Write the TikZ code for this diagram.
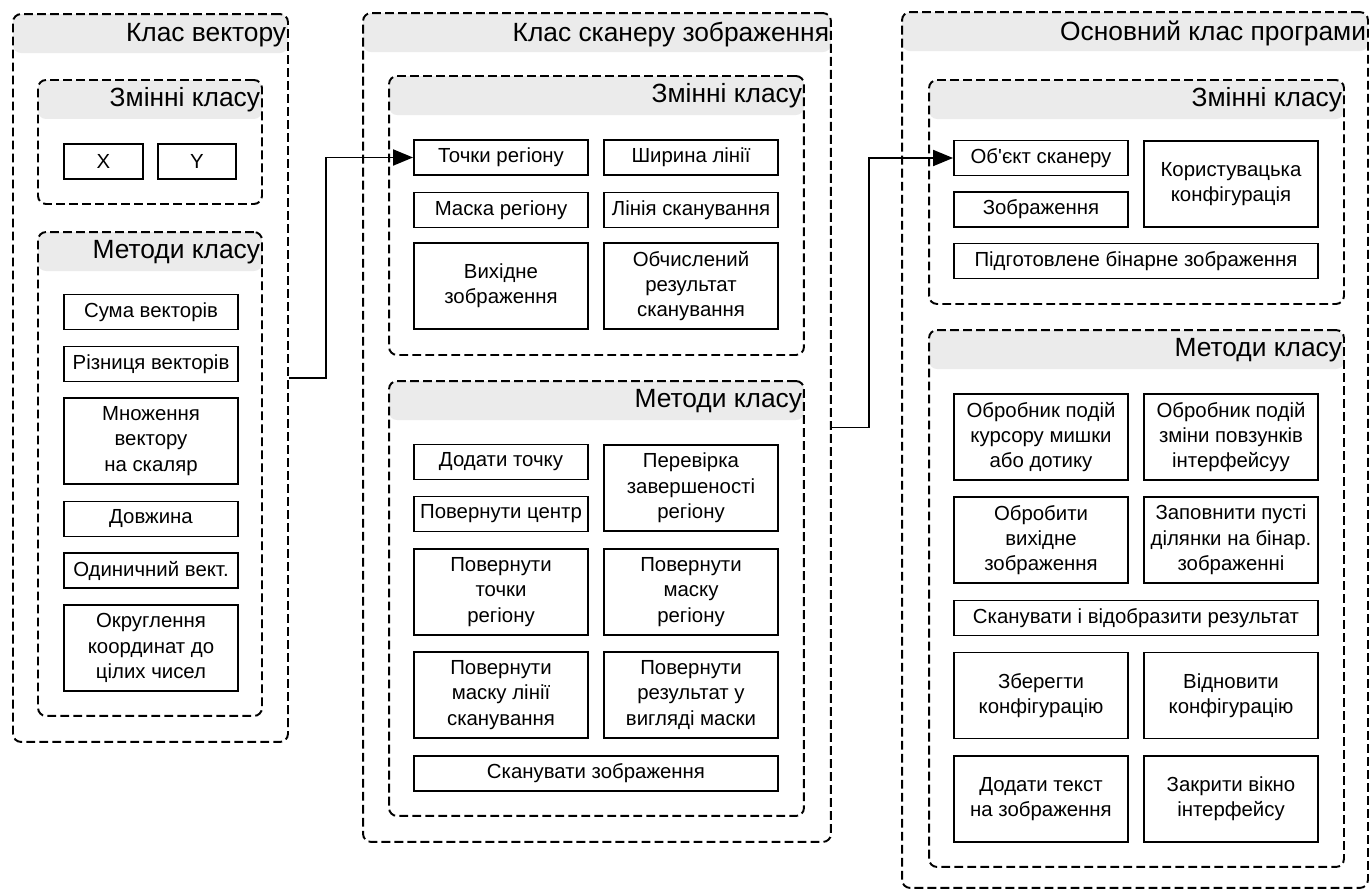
\documentclass[tikz,border=0pt]{standalone}
\usepackage{fontspec}
\setmainfont{Liberation Sans}
\usepackage{tikz}
\usetikzlibrary{arrows.meta}

\begin{document}
\begin{tikzpicture}[x=0.02cm, y=-0.02cm,
    frame/.style={draw, rounded corners=0.16cm, line width=1.1pt,
      dash pattern=on 5pt off 2.4pt, inner sep=0pt,
      path picture={\fill[black!8] (path picture bounding box.north west)
        rectangle ([yshift=-0.78cm]path picture bounding box.north east);}},
    title/.style={anchor=east, inner sep=0pt, font=\fontsize{15}{18}\selectfont},
    item/.style={draw, line width=1.1pt, align=center, inner sep=1pt,
      minimum width=3.48cm, minimum height=0.7cm,
      font=\fontsize{11.6}{14.4}\selectfont},
    tall/.style={minimum height=1.72cm},
    wide/.style={minimum width=7.28cm},
    conn/.style={line width=1.1pt, -{Triangle[length=0.4cm,width=0.32cm]}}]
    \useasboundingbox (0, 0) rectangle (1370, 891);

    \node[frame, minimum width=5.5cm, minimum height=14.56cm] (vec) at (150.5, 378) {};
    \node[title] at ([xshift=-0.05cm, yshift=-0.44cm]vec.north east) {Клас вектору};
    \node[frame, minimum width=4.48cm, minimum height=2.48cm] (vecV) at (150, 142) {};
    \node[title] at ([xshift=-0.05cm, yshift=-0.42cm]vecV.north east) {Змінні класу};
    \node[frame, minimum width=4.48cm, minimum height=9.68cm] (vecM) at (150, 474) {};
    \node[title] at ([xshift=-0.05cm, yshift=-0.42cm]vecM.north east) {Методи класу};

    \node[item, minimum width=1.58cm] (vX) at (103.5, 161.5) {X};
    \node[item, minimum width=1.56cm] (vY) at (197, 161.5) {Y};
    \node[item] (vSum) at (151, 312) {Сума векторів};
    \node[item] (vDiff) at (151, 364) {Різниця векторів};
    \node[item, tall] (vMul) at (151, 441) {Множення\\ вектору\\ на скаляр};
    \node[item] (vLen) at (151, 519) {Довжина};
    \node[item] (vUnit) at (151, 570.5) {Одиничний вект.};
    \node[item, tall] (vRound) at (151, 648) {Округлення\\ координат до\\ цілих чисел};

    \node[frame, minimum width=9.36cm, minimum height=16.58cm] (scan) at (597, 427.5) {};
    \node[title] at ([xshift=-0.05cm, yshift=-0.44cm]scan.north east) {Клас сканеру зображення};
    \node[frame, minimum width=8.3cm, minimum height=5.58cm] (scanV) at (596.5, 215.5) {};
    \node[title] at ([xshift=-0.05cm, yshift=-0.42cm]scanV.north east) {Змінні класу};
    \node[frame, minimum width=8.3cm, minimum height=8.7cm] (scanM) at (596.5, 598.5) {};
    \node[title] at ([xshift=-0.05cm, yshift=-0.42cm]scanM.north east) {Методи класу};

    \node[item] (sPts) at (501, 157.5) {Точки регіону};
    \node[item] (sWid) at (691, 157.5) {Ширина лінії};
    \node[item] (sMask) at (501, 210) {Маска регіону};
    \node[item] (sLine) at (691, 210) {Лінія сканування};
    \node[item, tall] (sSrc) at (501, 286) {Вихідне\\ зображення};
    \node[item, tall] (sRes) at (691, 286) {Обчислений\\ результат\\ сканування};
    \node[item] (mAdd) at (501, 462) {Додати точку};
    \node[item] (mCen) at (501, 514) {Повернути центр};
    \node[item, tall] (mChk) at (691, 488) {Перевірка\\ завершеності\\ регіону};
    \node[item, tall] (mPts) at (501, 592) {Повернути\\ точки\\ регіону};
    \node[item, tall] (mMsk) at (691, 592) {Повернути\\ маску\\ регіону};
    \node[item, tall] (mLin) at (501, 695) {Повернути\\ маску лінії\\ сканування};
    \node[item, tall] (mRes) at (691, 695) {Повернути\\ результат у\\ вигляді маски};
    \node[item, wide] (mScan) at (596, 773.5) {Сканувати зображення};

    \node[frame, minimum width=9.32cm, minimum height=17.52cm] (prog) at (1135, 450) {};
    \node[title] at ([xshift=-0.05cm, yshift=-0.44cm]prog.north east) {Основний клас програми};
    \node[frame, minimum width=8.3cm, minimum height=4.48cm] (progV) at (1136.5, 192) {};
    \node[title] at ([xshift=-0.05cm, yshift=-0.42cm]progV.north east) {Змінні класу};
    \node[frame, minimum width=8.3cm, minimum height=10.74cm] (progM) at (1136.5, 598.5) {};
    \node[title] at ([xshift=-0.05cm, yshift=-0.42cm]progM.north east) {Методи класу};

    \node[item] (pObj) at (1041, 158) {Об\textquotesingle єкт сканеру};
    \node[item] (pImg) at (1041, 209.5) {Зображення};
    \node[item, tall] (pCfg) at (1231, 184) {Користувацька\\ конфігурація};
    \node[item, wide] (pBin) at (1136, 261) {Підготовлене бінарне зображення};
    \node[item, tall] (pMouse) at (1041, 437) {Обробник подій\\ курсору мишки\\ або дотику};
    \node[item, tall] (pSlide) at (1231, 437) {Обробник подій\\ зміни повзунків\\ інтерфейсуу};
    \node[item, tall] (pProc) at (1041, 540) {Обробити\\ вихідне\\ зображення};
    \node[item, tall] (pFill) at (1231, 540) {Заповнити пусті\\ ділянки на бінар.\\ зображенні};
    \node[item, wide] (pShow) at (1136, 618) {Сканувати і відобразити результат};
    \node[item, tall] (pSave) at (1041, 695.5) {Зберегти\\ конфігурацію};
    \node[item, tall] (pLoad) at (1231, 695.5) {Відновити\\ конфігурацію};
    \node[item, tall] (pText) at (1041, 799) {Додати текст\\ на зображення};
    \node[item, tall] (pClose) at (1231, 799) {Закрити вікно\\ інтерфейсу};

    \draw[conn] (vec.east) -- ++(37, 0) |- (sPts.west);
    \draw[conn] (scan.east) -- ++(37, 0) |- (pObj.west);
\end{tikzpicture}
\end{document}
